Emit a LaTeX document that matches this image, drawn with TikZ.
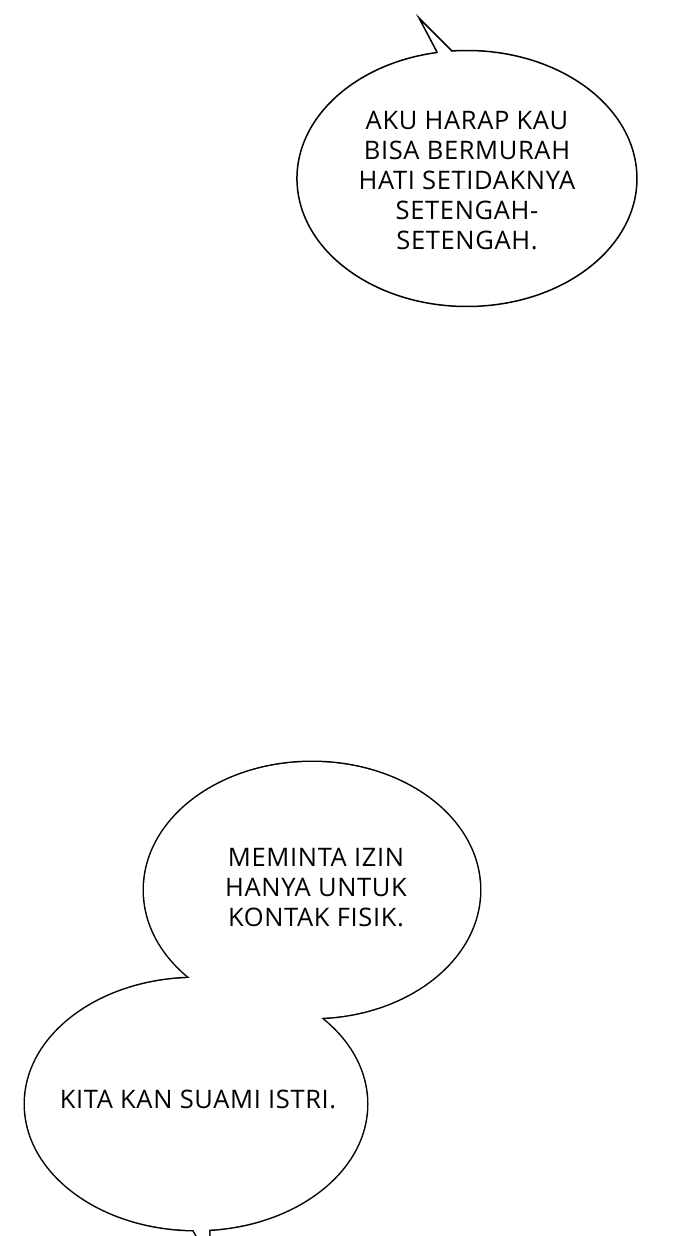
\documentclass[tikz,border=0pt]{standalone}
\usepackage{fontspec}
\setmainfont{Open Sans}[LetterSpace=2.5]
\begin{document}
\begin{tikzpicture}[x=1pt,y=-1pt]
\tikzset{
  bubbletext/.style={align=center, font=\fontsize{25.5}{30}\selectfont, inner sep=0pt},
  outline/.style={draw=black, line width=1.5pt, line join=miter},
  halo/.style={draw=black, line width=3pt},
}
\useasboundingbox (0,0) rectangle (700,1236);
\fill[white] (0,0) rectangle (700,1236);
% top bubble with tail
\draw[outline, fill=white] (437,52) -- (419,18) -- (452,51)
  arc[start angle=95.05, end angle=-259.8, x radius=170pt, y radius=128pt] -- cycle;
\node[bubbletext] (t1) at (467,181) {AKU HARAP KAU\\BISA BERMURAH\\HATI SETIDAKNYA\\SETENGAH-\\SETENGAH.};
% bottom joined bubbles
\draw[halo] (312,890) ellipse[x radius=168pt, y radius=128pt];
\draw[halo] (196,1104) ellipse[x radius=171pt, y radius=126pt];
\draw[halo] (185,1215) -- (202,1245) -- (209,1245) -- (209,1215) -- cycle;
\fill[white] (312,890) ellipse[x radius=168pt, y radius=128pt];
\fill[white] (196,1104) ellipse[x radius=171pt, y radius=126pt];
\fill[white] (185,1215) -- (202,1245) -- (209,1245) -- (209,1215) -- cycle;
\node[bubbletext] (t2) at (316,888) {MEMINTA IZIN\\HANYA UNTUK\\KONTAK FISIK.};
\node[bubbletext] (t3) at (198,1099) {KITA KAN SUAMI ISTRI.};
\end{tikzpicture}
\end{document}
